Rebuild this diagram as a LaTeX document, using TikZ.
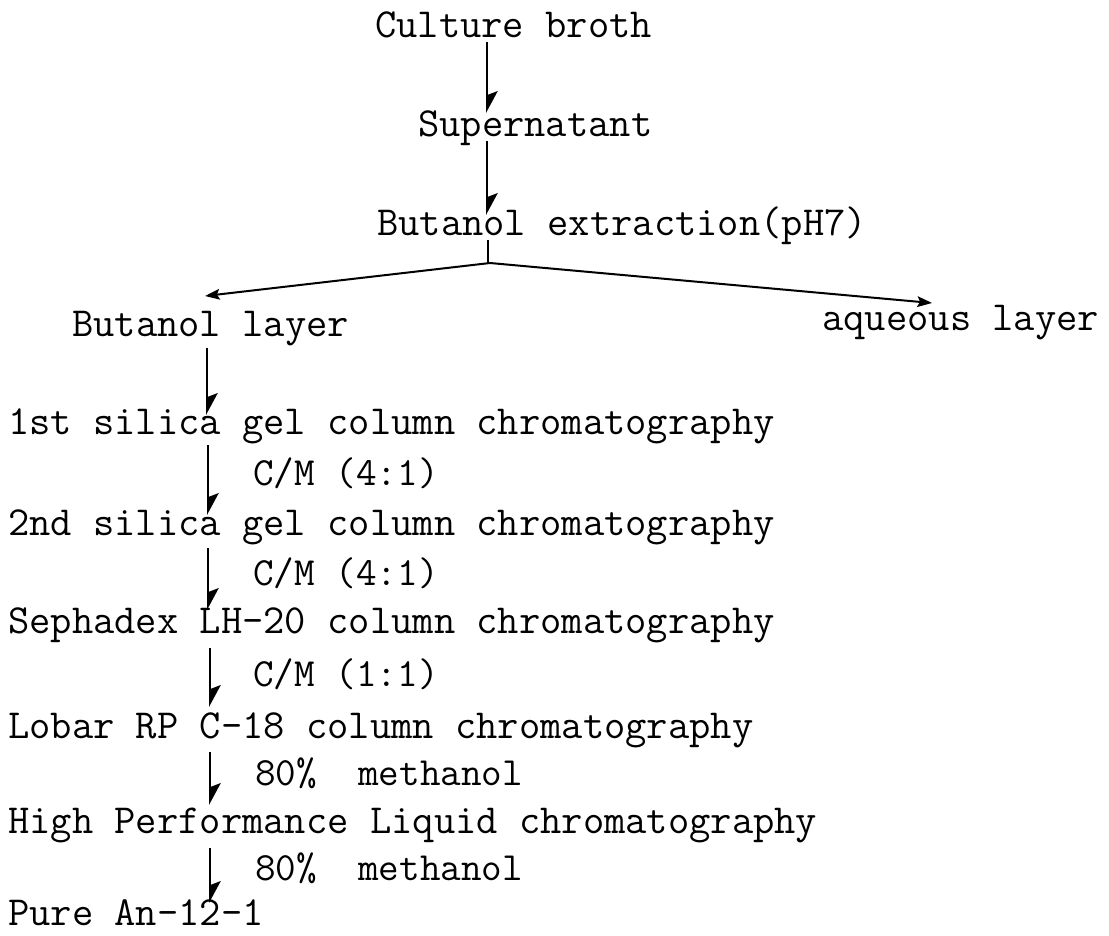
\documentclass[tikz,border=0pt]{standalone}
\usepackage{fontspec}
\usetikzlibrary{arrows.meta,calc}
\begin{document}
\begin{tikzpicture}[x=0.75pt,y=-0.75pt,
  txt/.style={anchor=base west,inner sep=0pt,font=\ttfamily\fontsize{31}{34}\selectfont},
  sub/.style={anchor=base west,inner sep=0pt,font=\ttfamily\fontsize{30}{34}\selectfont},
  arr/.style={line width=1.5pt,-{Stealth[harpoon,length=15pt,width=16pt,inset=3pt]}},
  arrs/.style={line width=1.5pt,-{Stealth[length=11pt,width=8pt,inset=2pt]}},
  ln/.style={line width=1.5pt}]
\useasboundingbox (0,0) rectangle (1109,935);
\fill[white] (0,0) rectangle (1109,935);
\node[txt] (cb) at (375,37) {Culture broth};
\node[txt] (sup) at (418,136) {Supernatant};
\node[txt] (bex) at (377,235) {Butanol extraction(pH7)};
\node[txt] (bl) at (72,336) {Butanol layer};
\node[txt] (aq) at (822,330) {aqueous layer};
\node[txt] (s1) at (8,434) {1st silica gel column chromatography};
\node[sub] (cm1) at (253,485) {C/M (4:1)};
\node[txt] (s2) at (8,535) {2nd silica gel column chromatography};
\node[sub] (cm2) at (253,585) {C/M (4:1)};
\node[txt] (seph) at (8,633) {Sephadex LH-20 column chromatography};
\node[sub] (cm3) at (253,686) {C/M (1:1)};
\node[txt] (lob) at (8,738) {Lobar RP C-18 column chromatography};
\node[sub] (me1) at (255,785) {80\%~~methanol};
\node[txt] (hplc) at (8,833) {High Performance Liquid chromatography};
\node[sub] (me2) at (255,880) {80\%~~methanol};
\node[txt] (pure) at (8,925) {Pure An-12-1};
\coordinate (xa) at (487,0);
\coordinate (xb) at (488,0);
\coordinate (xc) at (207,0);
\coordinate (xd) at (208,0);
\coordinate (xe) at (210,0);
\coordinate (apex) at (490,263);
\draw[arr] ($(cb.base -| xa)+(0,5)$) -- ($(sup.base -| xa)+(0,-23)$);
\draw[arr] ($(sup.base -| xa)+(0,5)$) -- ($(bex.base -| xa)+(0,-20)$);
\draw[ln] ($(bex.base -| xb)+(0,5)$) -- (apex -| xb);
\draw[arrs] (apex) -- ($(bl.base -| xc)+(-2,-40)$);
\draw[arrs] (apex) -- ($(aq.base -| 932,0)+(0,-27)$);
\draw[arr] ($(bl.base -| xc)+(0,12)$) -- ($(s1.base -| xc)+(0,-19)$);
\draw[arr] ($(s1.base -| xd)+(0,11)$) -- ($(s2.base -| xd)+(0,-20)$);
\draw[arr] ($(s2.base -| xd)+(0,13)$) -- ($(seph.base -| xd)+(0,-23)$);
\draw[arr] ($(seph.base -| xe)+(0,15)$) -- ($(lob.base -| xe)+(0,-31)$);
\draw[arr] ($(lob.base -| xe)+(0,14)$) -- ($(hplc.base -| xe)+(0,-28)$);
\draw[arr] ($(hplc.base -| xe)+(0,15)$) -- ($(pure.base -| xe)+(0,-22)$);
\end{tikzpicture}
\end{document}
